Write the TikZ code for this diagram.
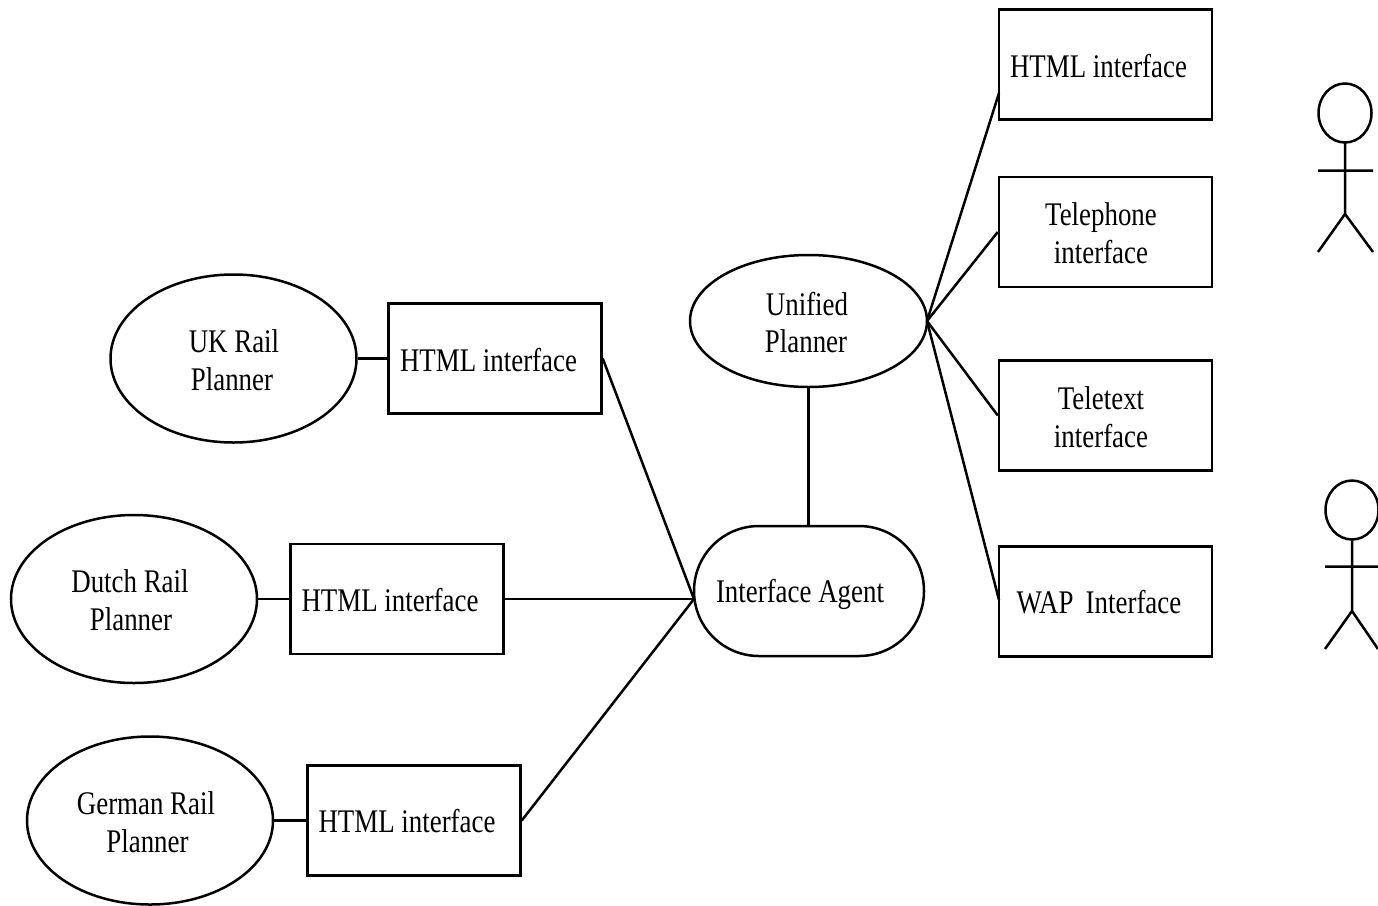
\documentclass[tikz,border=0pt]{standalone}
\usepackage{fontspec}
\setmainfont[FakeStretch=0.815]{Liberation Serif}
\usetikzlibrary{shapes.geometric,shapes.misc}
\tikzset{
  x=1pt,y=-1pt,
  link/.style={line width=2.5pt,draw=black},
  planner/.style={ellipse,draw,line width=2.5pt,inner sep=0pt,minimum width=246pt,minimum height=168pt},
  iface/.style={rectangle,draw,line width=2.5pt,inner sep=0pt,minimum width=213pt,minimum height=110pt},
  agent/.style={rounded rectangle,draw,line width=2.5pt,inner sep=0pt,minimum width=230pt,minimum height=130pt},
  lbl/.style={inner sep=0pt,align=center,font=\fontsize{33}{37.5}\selectfont,text=black},
}
\begin{document}
\begin{tikzpicture}
\useasboundingbox (0,0) rectangle (1378,905);
% planners
\node[planner] (uk) at (233.5,358.5) {};
\node[planner] (du) at (134,599) {};
\node[planner] (ge) at (150,820.5) {};
\node[planner,minimum width=237pt,minimum height=132pt] (un) at (808.5,321) {};
% left interfaces
\node[iface] (h1) at (495,358.5) {};
\node[iface] (h2) at (397,599) {};
\node[iface] (h3) at (414,820.5) {};
% agent
\node[agent] (ag) at (809,591) {};
% right interfaces
\node[iface] (r1) at (1105.5,64.5) {};
\node[iface] (r2) at (1105.5,232) {};
\node[iface] (r3) at (1105.5,415.5) {};
\node[iface] (r4) at (1105.5,601.5) {};
% labels
\node[lbl] (tuk) at (234,360) {UK Rail\\Planner\hspace*{4pt}};
\node[lbl] (tdu) at (130,600) {Dutch Rail\\\hspace*{2pt}Planner};
\node[lbl] (tge) at (146,822) {German Rail\\\hspace*{3pt}Planner};
\node[lbl] (tun) at (807,322.5) {Unified\\Planner\hspace*{2pt}};
\node[lbl] (th1) at (488.5,360) {HTML interface};
\node[lbl] (th2) at (390,600) {HTML interface};
\node[lbl] (th3) at (407,821) {HTML interface};
\node[lbl] (tag) at (800,594.5) {Interface Agent};
\node[lbl] (tr1) at (1098.5,66) {HTML interface};
\node[lbl] (tr2) at (1101,233) {Telephone\\interface};
\node[lbl] (tr3) at (1101,417) {Teletext\\interface};
\node[lbl] (tr4) at (1099,602) {WAP\, Interface};
% hubs
\coordinate (hub) at (694,599);
\coordinate (hubr) at (927,321);
\coordinate (r1in) at (999,93);
\coordinate (r4in) at (999,600);
% connectors
\draw[link] (uk.east) -- (h1.west);
\draw[link] (du.east) -- (h2.west);
\draw[link] (ge.east) -- (h3.west);
\draw[link] (h1.east) -- (hub);
\draw[link] (h2.east) -- (hub);
\draw[link] (h3.east) -- (hub);
\draw[link] (un.south) -- (un.south |- ag.north);
\draw[link] (hubr) -- (r1in);
\draw[link] (hubr) -- (r2.west);
\draw[link] (hubr) -- (r3.west);
\draw[link] (hubr) -- (r4in);
% stick figures
\draw[link] (1345,113) ellipse[x radius=26.5,y radius=29.5];
\draw[link] (1345,142) -- (1345,214) (1318,170.5) -- (1373,170.5) (1318,252) -- (1345,214) -- (1373,252);
\draw[link] (1352,510) ellipse[x radius=26.5,y radius=29.5];
\draw[link] (1352,539) -- (1352,611) (1325,566.5) -- (1378,566.5) (1325,649) -- (1352,611) -- (1378,649);
\end{tikzpicture}
\end{document}
